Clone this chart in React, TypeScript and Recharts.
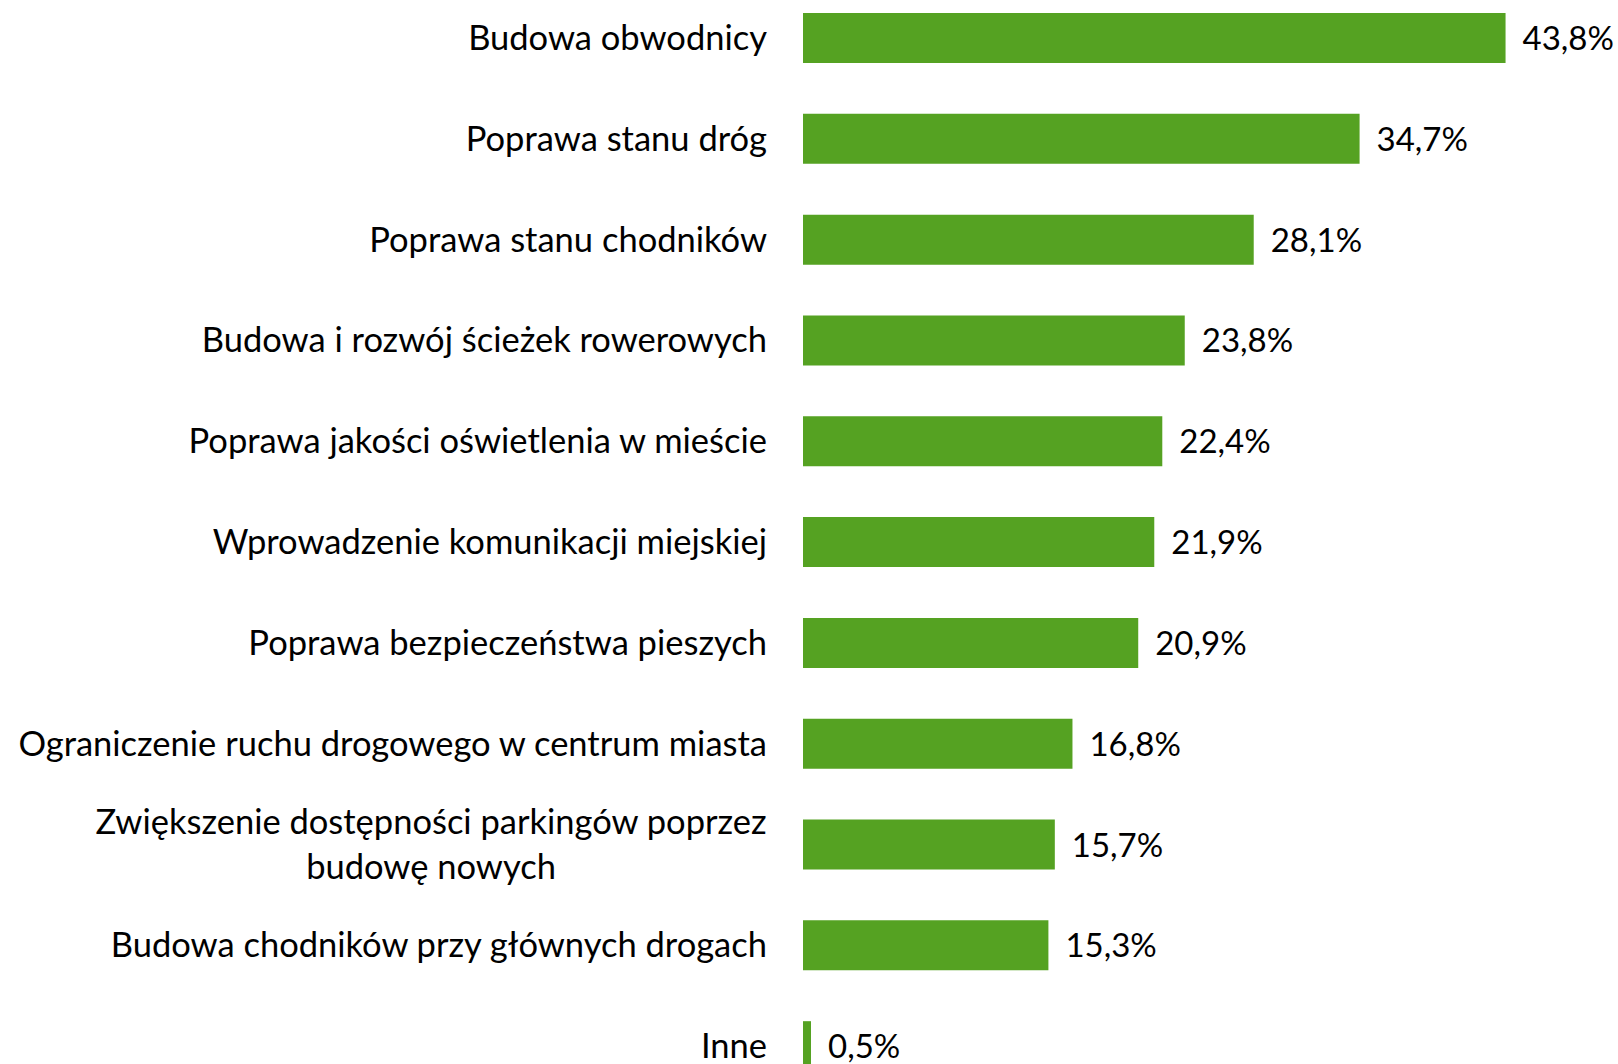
import React from "react";
import { BarChart, Bar, XAxis, YAxis, LabelList } from "recharts";

const categories: string[] = [
  "Budowa obwodnicy",
  "Poprawa stanu dróg",
  "Poprawa stanu chodników",
  "Budowa i rozwój ścieżek rowerowych",
  "Poprawa jakości oświetlenia w mieście",
  "Wprowadzenie komunikacji miejskiej",
  "Poprawa bezpieczeństwa pieszych",
  "Ograniczenie ruchu drogowego w centrum miasta",
  "Zwiększenie dostępności parkingów poprzez\nbudowę nowych",
  "Budowa chodników przy głównych drogach",
  "Inne",
];
const values: number[] = [43.8, 34.7, 28.1, 23.8, 22.4, 21.9, 20.9, 16.8, 15.7, 15.3, 0.5];

const data = categories.map((c, i) => ({ name: c, value: values[i] }));

const FONT_FAMILY = "Lato, 'Open Sans', sans-serif";
const FONT_SIZE = 34.5;
const VALUE_FONT_SIZE = 33;
const GREEN = "#55A222";

let measureCtx: CanvasRenderingContext2D | null = null;
function measure(text: string): number {
  if (!measureCtx) {
    const c = document.createElement("canvas");
    measureCtx = c.getContext("2d");
  }
  if (!measureCtx) return text.length * FONT_SIZE * 0.5;
  measureCtx.font = `${FONT_SIZE}px ${FONT_FAMILY}`;
  return measureCtx.measureText(text).width;
}

const Tick = (props: any) => {
  const { x, y, payload } = props;
  const lines: string[] = String(payload.value).split("\n");
  if (lines.length === 1) {
    return (
      <text x={x} y={y} dy={11.5} textAnchor="end" fill="#000" fontFamily={FONT_FAMILY} fontSize={FONT_SIZE}>
        {lines[0]}
      </text>
    );
  }
  const w0 = measure(lines[0]);
  const lineH = 45;
  const startDy = 11.5 - ((lines.length - 1) * lineH) / 2;
  return (
    <g>
      {lines.map((l, i) => (
        <text
          key={i}
          x={x - w0 / 2}
          y={y}
          dy={startDy + i * lineH}
          textAnchor="middle"
          fill="#000"
          fontFamily={FONT_FAMILY}
          fontSize={FONT_SIZE}
        >
          {l}
        </text>
      ))}
    </g>
  );
};

const ValueLabel = (props: any) => {
  const { x, y, width, height, value } = props;
  return (
    <text
      x={x + width + 17}
      y={y + height / 2}
      dy={12}
      textAnchor="start"
      fill="#000"
      fontFamily={FONT_FAMILY}
      fontSize={VALUE_FONT_SIZE}
    >
      {String(value).replace(".", ",") + "%"}
    </text>
  );
};

export default function App() {
  return (
    <div style={{ position: "fixed", left: 0, top: 0, width: 1618, height: 1064, overflow: "hidden", background: "#fff" }}>
      <div style={{ position: "absolute", left: 0, top: -12 }}>
        <BarChart
          width={1618}
          height={1109}
          data={data}
          layout="vertical"
          margin={{ top: 0, right: 13, bottom: 0, left: 0 }}
          barCategoryGap={0}
        >
          <XAxis type="number" domain={[0, 50]} hide />
          <YAxis
            type="category"
            dataKey="name"
            width={803}
            axisLine={false}
            tickLine={false}
            tickSize={0}
            tickMargin={36}
            interval={0}
            tick={<Tick />}
          />
          <Bar dataKey="value" fill={GREEN} barSize={50} isAnimationActive={false}>
            <LabelList dataKey="value" content={<ValueLabel />} />
          </Bar>
        </BarChart>
      </div>
    </div>
  );
}
